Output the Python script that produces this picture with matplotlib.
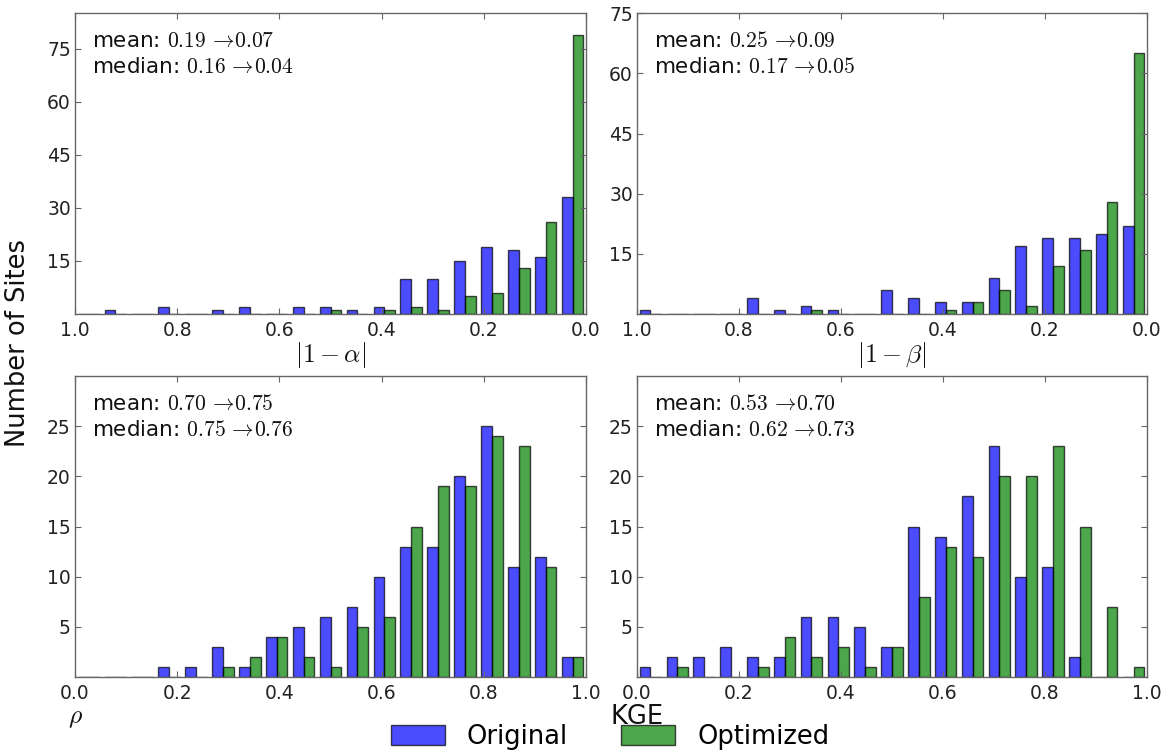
import numpy as np
import matplotlib
matplotlib.use("Agg")
import matplotlib.pyplot as plt

plt.rcParams['font.family'] = ['DejaVu Sans']
plt.rcParams['mathtext.fontset'] = 'cm'

# ---- data (counts per bin, bins = 19 equal bins on [0, 1], ascending) ----
n_bins = 19
series_names = ["Original", "Optimized"]

alpha_orig = [33, 16, 18, 19, 15, 10, 10, 2, 1, 2, 2, 0, 2, 1, 0, 2, 0, 1, 0]
alpha_opt = [79, 26, 13, 6, 5, 1, 2, 1, 0, 1, 0, 0, 0, 0, 0, 0, 0, 0, 0]

beta_orig = [22, 20, 19, 19, 17, 9, 3, 3, 4, 6, 0, 1, 2, 1, 4, 0, 0, 0, 1]
beta_opt = [65, 28, 16, 12, 2, 6, 3, 1, 0, 0, 0, 0, 1, 0, 0, 0, 0, 0, 0]

rho_orig = [0, 0, 0, 1, 1, 3, 1, 4, 5, 6, 7, 10, 13, 13, 20, 25, 11, 12, 2]
rho_opt = [0, 0, 0, 0, 0, 1, 2, 4, 2, 1, 5, 6, 15, 19, 19, 24, 23, 11, 2]

kge_orig = [1, 2, 2, 3, 2, 2, 6, 6, 5, 3, 15, 14, 18, 23, 10, 11, 2, 0, 0]
kge_opt = [0, 1, 0, 0, 1, 4, 2, 3, 1, 3, 8, 13, 12, 20, 20, 23, 15, 7, 1]

xlabels = [r'$|1-\alpha|$', r'$|1-\beta|$', r'$\rho$', 'KGE']
stats_mean = [("0.19", "0.07"), ("0.25", "0.09"), ("0.70", "0.75"), ("0.53", "0.70")]
stats_median = [("0.16", "0.04"), ("0.17", "0.05"), ("0.75", "0.76"), ("0.62", "0.73")]
ylims = [85, 75, 30, 30]
yticks = [[15, 30, 45, 60, 75], [15, 30, 45, 60, 75], [5, 10, 15, 20, 25], [5, 10, 15, 20, 25]]
xticks = [0.0, 0.2, 0.4, 0.6, 0.8, 1.0]
reversed_x = [True, True, False, False]

panels = [(alpha_orig, alpha_opt), (beta_orig, beta_opt), (rho_orig, rho_opt), (kge_orig, kge_opt)]

W, H = 1167, 752
fig = plt.figure(figsize=(W / 100, H / 100), dpi=100)

# axes rectangles in pixels: left, top, right, bottom
rects = [(75, 13.3, 586, 314), (637, 13.3, 1147, 314),
         (75, 376, 586, 677), (637, 376, 1147, 677)]

blue = (0, 0, 1)
green = (0, 0.5, 0)
spine_col = '#666666'

edges = np.linspace(0, 1, n_bins + 1)
bw = edges[1] - edges[0]
bar_w = 0.4 * bw

handles = None
for i, (rect, (orig, opt)) in enumerate(zip(rects, panels)):
    l, t, r, b = rect
    ax = fig.add_axes([l / W, 1 - b / H, (r - l) / W, (b - t) / H])
    left = edges[:-1]
    if reversed_x[i]:
        x_orig = left + 0.5 * bw
        x_opt = left + 0.1 * bw
    else:
        x_orig = left + 0.1 * bw
        x_opt = left + 0.5 * bw
    h1 = ax.bar(x_orig, orig, width=bar_w, align='edge', color=blue, alpha=0.7,
                edgecolor='black', linewidth=1.0, label=series_names[0])
    h2 = ax.bar(x_opt, opt, width=bar_w, align='edge', color=green, alpha=0.7,
                edgecolor='black', linewidth=1.0, label=series_names[1])
    if handles is None:
        handles = [h1, h2]
    if reversed_x[i]:
        ax.set_xlim(1.0, 0.0)
    else:
        ax.set_xlim(0.0, 1.0)
    ax.set_ylim(0, ylims[i])
    ax.set_xticks(xticks)
    ax.set_xticklabels([f"{v:.1f}" for v in xticks])
    ax.set_yticks(yticks[i])
    ax.tick_params(direction='in', top=True, right=True, length=4, width=0.8,
                   color=spine_col, labelsize=13.5, labelcolor='#222222')
    ax.tick_params(axis='x', pad=5)
    ax.tick_params(axis='y', pad=3)
    for s in ax.spines.values():
        s.set_color(spine_col)
        s.set_linewidth(1.0)
    m0, m1 = stats_mean[i]
    d0, d1 = stats_median[i]
    ax.text(0.033, 0.907, "mean: $" + m0 + r"\,\rightarrow\!" + m1 + "$",
            transform=ax.transAxes, ha='left', va='center',
            fontsize=15.5, color='#111111')
    ax.text(0.033, 0.822, "median: $" + d0 + r"\,\rightarrow\!" + d1 + "$",
            transform=ax.transAxes, ha='left', va='center',
            fontsize=15.5, color='#111111')
    ax.set_xlabel(xlabels[i], fontsize=18.5, color='#111111')
    if i < 2:
        ax.xaxis.set_label_coords(0.5, -0.085)
    else:
        ax.xaxis.set_label_coords(0.0, -0.09)

fig.text(18 / W, 1 - 343 / H, "Number of Sites", rotation=90, ha='center', va='center',
         fontsize=18.5, color='#111111')

fig.legend(handles, series_names, loc='center', bbox_to_anchor=(610 / W, 1 - 737 / H),
           ncol=2, frameon=False, fontsize=18.5, handlelength=2.1, handleheight=0.8,
           handletextpad=0.85, columnspacing=2.1)

fig.savefig("out.png", dpi=100)
